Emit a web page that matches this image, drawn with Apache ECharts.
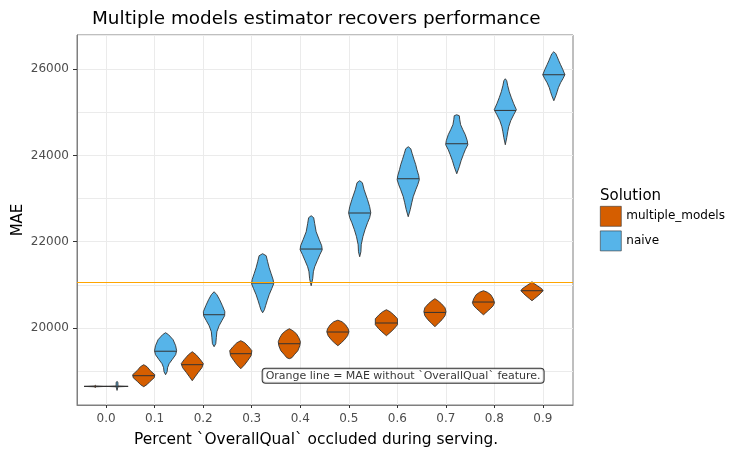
<!DOCTYPE html>
<html>
<head>
<meta charset="utf-8">
<title>Multiple models estimator</title>
<script src="https://cdn.jsdelivr.net/npm/echarts@6/dist/echarts.min.js"></script>
<style>
  html, body { margin: 0; padding: 0; background: #fff; }
  #chart { width: 753px; height: 457px; }
</style>
</head>
<body>
<div id="chart"></div>
<script>
// x categories (fraction of OverallQual occluded)
var occluded = [0.0, 0.1, 0.2, 0.3, 0.4, 0.5, 0.6, 0.7, 0.8, 0.9];
var yTicks = [20000, 22000, 24000, 26000];
var baselineMae = 21060; // MAE without OverallQual feature

// medians of each violin
var multiMedian = [18647, 18895, 19150, 19405, 19636, 19907, 20116, 20361, 20602, 20864];
var naiveMedian = [18647, 19462, 20308, 21043, 21830, 22665, 23459, 24270, 25042, 25869];

// density outline per violin: [MAE, relative width], top to bottom
var multiDensity = [
    [[18675, 0], [18656, 0.08], [18647, 1], [18638, 0.08], [18617, 0]],
    [[19150, 0], [19103, 0.3], [19011, 0.6], [18918, 1], [18848, 0.95], [18756, 0.55], [18686, 0.28], [18640, 0]],
    [[19451, 0], [19381, 0.35], [19266, 0.74], [19173, 1], [19080, 0.87], [18964, 0.52], [18872, 0.26], [18779, 0]],
    [[19706, 0], [19659, 0.35], [19567, 0.71], [19474, 1], [19358, 0.93], [19242, 0.62], [19150, 0.35], [19057, 0]],
    [[19984, 0], [19937, 0.32], [19868, 0.64], [19775, 0.86], [19683, 1], [19590, 0.95], [19474, 0.77], [19381, 0.45], [19312, 0.23], [19289, 0]],
    [[20181, 0], [20146, 0.37], [20076, 0.69], [19984, 0.93], [19914, 1], [19822, 0.88], [19729, 0.6], [19659, 0.32], [19590, 0]],
    [[20424, 0], [20378, 0.33], [20308, 0.66], [20215, 1], [20076, 1], [19984, 0.7], [19914, 0.42], [19822, 0]],
    [[20679, 0], [20633, 0.27], [20563, 0.59], [20470, 0.91], [20378, 1], [20285, 0.91], [20192, 0.64], [20123, 0.36], [20030, 0]],
    [[20864, 0], [20829, 0.35], [20772, 0.66], [20679, 0.88], [20586, 1], [20517, 0.88], [20447, 0.62], [20389, 0.35], [20343, 0.18], [20308, 0]],
    [[21073, 0], [21026, 0.22], [20980, 0.49], [20911, 0.88], [20864, 1], [20795, 0.75], [20725, 0.44], [20679, 0.22], [20633, 0]]
];
var naiveDensity = [
    [[18763, 0], [18744, 0.08], [18656, 0.08], [18647, 1], [18638, 0.08], [18554, 0]],
    [[19891, 0], [19845, 0.27], [19729, 0.68], [19590, 0.91], [19474, 1], [19381, 0.91], [19266, 0.59], [19173, 0.32], [19080, 0.18], [18987, 0.14], [18918, 0]],
    [[20841, 0], [20772, 0.25], [20656, 0.5], [20517, 0.75], [20378, 0.97], [20285, 0.95], [20169, 0.7], [20053, 0.45], [19914, 0.25], [19775, 0.2], [19636, 0.15], [19567, 0]],
    [[21722, 0], [21675, 0.32], [21536, 0.45], [21397, 0.59], [21258, 0.77], [21119, 0.95], [21026, 1], [20911, 0.82], [20772, 0.59], [20633, 0.41], [20517, 0.27], [20424, 0.16], [20354, 0]],
    [[22602, 0], [22556, 0.23], [22417, 0.32], [22231, 0.45], [22046, 0.73], [21907, 0.95], [21814, 1], [21698, 0.78], [21559, 0.55], [21420, 0.32], [21304, 0.2], [21142, 0.14], [20980, 0]],
    [[23413, 0], [23367, 0.24], [23204, 0.4], [22973, 0.71], [22811, 0.9], [22671, 1], [22556, 0.9], [22440, 0.71], [22278, 0.48], [22115, 0.29], [21930, 0.14], [21768, 0.11], [21652, 0]],
    [[24201, 0], [24154, 0.23], [24039, 0.36], [23900, 0.53], [23784, 0.68], [23668, 0.79], [23529, 0.95], [23436, 1], [23320, 0.86], [23204, 0.68], [23042, 0.45], [22903, 0.32], [22741, 0.18], [22579, 0]],
    [[24942, 0], [24919, 0.23], [24826, 0.27], [24710, 0.35], [24595, 0.55], [24479, 0.77], [24340, 0.95], [24247, 1], [24131, 0.77], [24015, 0.59], [23876, 0.39], [23737, 0.23], [23575, 0]],
    [[25776, 0], [25730, 0.13], [25614, 0.22], [25475, 0.36], [25336, 0.55], [25197, 0.76], [25058, 1], [24942, 0.76], [24803, 0.49], [24664, 0.31], [24548, 0.22], [24409, 0.13], [24247, 0]],
    [[26402, 0], [26356, 0.18], [26286, 0.3], [26193, 0.45], [26101, 0.61], [25985, 0.82], [25869, 1], [25776, 0.82], [25684, 0.61], [25568, 0.41], [25475, 0.3], [25382, 0.18], [25267, 0]]
];

// annotation label position (data coords)
var noteX = 0.612, noteY = 18895;
var noteText = 'Orange line = MAE without `OverallQual` feature.';

var DODGE = 0.0225;   // offset of each group from the tick
var HALF = 0.0228;    // max half width of a violin
var FONT = 'DejaVu Sans';

// width of the outline at a given value (for the median line)
function widthAt(prof, v) {
    for (var k = 0; k < prof.length - 1; k++) {
        var a = prof[k], b = prof[k + 1];
        if (v <= a[0] && v >= b[0]) {
            if (a[0] === b[0]) return Math.max(a[1], b[1]);
            var t = (a[0] - v) / (a[0] - b[0]);
            return a[1] + t * (b[1] - a[1]);
        }
    }
    return 0;
}

function violinSeries(name, color, offset, medians, profiles) {
    return {
        type: 'custom',
        name: name,
        clip: true,
        itemStyle: { color: color, borderColor: '#333', borderWidth: 0.6 },
        data: occluded.map(function (x, i) { return [x, medians[i]]; }),
        encode: { x: 0, y: 1 },
        renderItem: function (params, api) {
            var i = params.dataIndex;
            var cx = api.value(0) + offset;
            var prof = profiles[i];
            var right = prof.map(function (p) { return api.coord([cx + p[1] * HALF, p[0]]); });
            var left = prof.slice().reverse().map(function (p) { return api.coord([cx - p[1] * HALF, p[0]]); });
            var med = api.value(1);
            var w = widthAt(prof, med);
            var a = api.coord([cx - w * HALF, med]);
            var b = api.coord([cx + w * HALF, med]);
            return {
                type: 'group',
                children: [
                    { type: 'polygon', shape: { points: right.concat(left) },
                      style: { fill: color, stroke: '#333', lineWidth: 0.9 } },
                    { type: 'line', shape: { x1: a[0], y1: a[1], x2: b[0], y2: b[1] },
                      style: { stroke: '#333', lineWidth: 1 } }
                ]
            };
        }
    };
}

var chart = echarts.init(document.getElementById('chart'));

var multiSeries = violinSeries('multiple_models', '#D55E00', -DODGE, multiMedian, multiDensity);
multiSeries.markLine = {
    silent: true,
    symbol: ['none', 'none'],
    label: { show: false },
    lineStyle: { color: '#FFA500', width: 1, type: 'solid' },
    data: [{ yAxis: baselineMae }]
};

var option = {
    animation: false,
    backgroundColor: '#fff',
    textStyle: { fontFamily: FONT },
    title: [
        { text: 'Multiple models estimator recovers performance', left: 92, top: 10, padding: 0,
          textStyle: { fontFamily: FONT, fontSize: 18.4, fontWeight: 'normal', color: '#000' } },
        { text: 'Solution', left: 600, top: 189, padding: 0,
          textStyle: { fontFamily: FONT, fontSize: 15, fontWeight: 'normal', color: '#000' } }
    ],
    legend: {
        data: ['multiple_models', 'naive'],
        orient: 'vertical',
        left: 600, top: 206, padding: 0,
        icon: 'rect',
        itemWidth: 21, itemHeight: 20, itemGap: 4,
        itemStyle: { borderColor: '#333', borderWidth: 0.6 },
        textStyle: { fontFamily: FONT, fontSize: 12, color: '#000' },
        selectedMode: false
    },
    grid: {
        left: 77, top: 35, right: 180, bottom: 52,
        outerBoundsMode: 'none',
        containLabel: false,
        show: true, borderColor: '#7f7f7f', borderWidth: 1, backgroundColor: '#fff'
    },
    xAxis: {
        type: 'value',
        min: -0.06, max: 0.962,
        splitNumber: 10,
        name: 'Percent `OverallQual` occluded during serving.',
        nameLocation: 'middle', nameGap: 27, nameMoveOverlap: false,
        nameTextStyle: { fontFamily: FONT, fontSize: 15.4, color: '#000', padding: [0, 18, 0, 0] },
        axisLine: { show: true, onZero: false, lineStyle: { color: '#7f7f7f', width: 1 } },
        axisTick: { show: true, customValues: occluded, length: 3, lineStyle: { color: '#333', width: 1 } },
        axisLabel: { customValues: occluded, color: '#4d4d4d', fontSize: 12, margin: 8,
                     formatter: function (v) { return v.toFixed(1); } },
        splitLine: { show: true, lineStyle: { color: '#ebebeb', width: 1 } }
    },
    yAxis: [
        {
            type: 'value',
            min: 18216, max: 26790,
            name: 'MAE',
            nameLocation: 'middle', nameGap: 51, nameRotate: 90, nameMoveOverlap: false,
            nameTextStyle: { fontFamily: FONT, fontSize: 15, color: '#000' },
            axisLine: { show: true, onZero: false, lineStyle: { color: '#7f7f7f', width: 1 } },
            axisTick: { show: true, customValues: yTicks, length: 4, lineStyle: { color: '#333', width: 1 } },
            axisLabel: { customValues: yTicks, color: '#4d4d4d', fontSize: 12, margin: 8,
                         formatter: function (v) { return String(v); } },
            splitLine: { show: false }
        },
        {
            // only used for the background grid lines every 1000
            type: 'value',
            min: 18216, max: 26790,
            splitNumber: 8,
            axisLine: { show: false, onZero: false },
            axisTick: { show: false },
            axisLabel: { show: false },
            splitLine: { show: true, lineStyle: { color: '#ebebeb', width: 1 } }
        }
    ],
    series: [
        multiSeries,
        violinSeries('naive', '#56B4E9', DODGE, naiveMedian, naiveDensity),
        {
            type: 'scatter',
            name: 'note',
            symbolSize: 0,
            data: [[noteX, noteY]],
            z: 10,
            label: {
                show: true, position: 'inside',
                formatter: noteText,
                fontFamily: FONT, fontSize: 11, color: '#000',
                backgroundColor: '#fff', borderColor: '#000', borderWidth: 1, borderRadius: 3,
                padding: [2, 3, 1, 3]
            }
        }
    ]
};

chart.setOption(option);
</script>
</body>
</html>
